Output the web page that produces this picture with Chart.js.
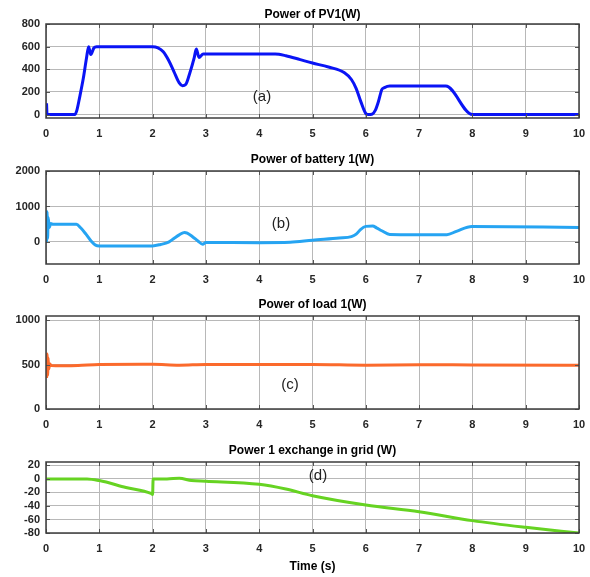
<!DOCTYPE html>
<html>
<head>
<meta charset="utf-8">
<script src="https://cdn.jsdelivr.net/npm/chart.js@4.4.0/dist/chart.umd.min.js"></script>
<style>
  html, body { margin: 0; padding: 0; background: #fff; }
  #wrap { position: relative; width: 590px; height: 577px; }
  #wrap canvas { position: absolute; left: 0; top: 0; }
</style>
</head>
<body>
<div id="wrap">
  <canvas id="pv" width="590" height="577"></canvas>
  <canvas id="bat" width="590" height="577"></canvas>
  <canvas id="load" width="590" height="577"></canvas>
  <canvas id="grid" width="590" height="577"></canvas>
</div>
<script>
// time axis (s)
var timeTicks = [0, 1, 2, 3, 4, 5, 6, 7, 8, 9, 10];

// (a) Power of PV1 (W)
var pvTime  = [0.01, 0.02, 0.04, 0.54, 0.58, 0.63, 0.7, 0.76, 0.8, 0.84, 0.9, 0.95, 2.0, 2.1, 2.2, 2.3, 2.4, 2.5, 2.56, 2.62, 2.7, 2.78, 2.82, 2.87, 2.95, 4.3, 4.5, 4.77, 5.0, 5.3, 5.6, 5.73, 5.82, 5.91, 6.0, 6.05, 6.12, 6.18, 6.24, 6.3, 6.35, 6.45, 7.5, 8.0, 10];
var pvPower = [100, 0, 0, 0, 40, 150, 320, 500, 600, 530, 590, 600, 600, 590, 555, 480, 380, 280, 255, 265, 370, 500, 580, 505, 535, 535, 520, 485, 455, 420, 370, 310, 230, 110, 10, 0, 5, 40, 120, 220, 238, 252, 252, 0, 0];
var pvTicks = [0, 200, 400, 600, 800];

// (b) Power of battery 1 (W)
var batTime  = [0.01, 0.02, 0.03, 0.04, 0.06, 0.09, 0.13, 0.57, 0.65, 0.75, 0.85, 0.93, 1.0, 2.0, 2.15, 2.3, 2.4, 2.5, 2.6, 2.65, 2.75, 2.85, 2.94, 3.0, 4.0, 4.58, 5.0, 5.5, 5.73, 5.82, 5.9, 6.0, 6.13, 6.2, 6.3, 6.45, 7.52, 7.7, 7.99, 10];
var batPower = [0, 850, 100, 700, 400, 520, 500, 500, 400, 220, 20, -90, -110, -110, -70, -5, 100, 200, 270, 250, 150, 30, -65, -15, -20, -10, 50, 110, 150, 220, 350, 440, 450, 400, 316, 214, 205, 300, 437, 410];
var batTicks = [0, 1000, 2000];

// (c) Power of load 1 (W)
var loadTime  = [0.01, 0.02, 0.03, 0.04, 0.05, 0.07, 0.1, 0.3, 0.6, 1.0, 2.0, 2.5, 3.0, 5.0, 6.0, 7.0, 8.0, 10];
var loadPower = [350, 620, 380, 580, 450, 510, 490, 488, 490, 503, 505, 495, 503, 503, 495, 500, 498, 495];
var loadTicks = [0, 500, 1000];

// (d) Power 1 exchange in grid (W)
var gridTime  = [0, 0.77, 1.0, 1.5, 1.97, 2.0, 2.01, 2.27, 2.5, 2.73, 3.0, 4.0, 4.5, 5.0, 6.0, 7.0, 8.0, 9.0, 10];
var gridPower = [0, 0, -2.5, -12.7, -21.5, -23, 0, 0, 1, -2.5, -3.5, -8, -15, -25, -38.7, -48.5, -61.7, -71.6, -80];
var gridTicks = [-80, -60, -40, -20, 0, 20];

var tickFont = { family: 'Liberation Sans, Arial, sans-serif', size: 11, weight: 'bold' };
var gridColor = '#b8b8b8';

function deco(p) {
  return {
    id: 'deco',
    afterDraw: function (chart) {
      var c = chart.ctx, a = chart.chartArea;
      c.save();
      // inward ticks
      c.strokeStyle = '#555';
      c.lineWidth = 1;
      c.beginPath();
      chart.scales.x.ticks.forEach(function (t) {
        var x = Math.round(chart.scales.x.getPixelForValue(t.value)) + 0.5;
        c.moveTo(x, a.bottom); c.lineTo(x, a.bottom - 4);
        c.moveTo(x, a.top); c.lineTo(x, a.top + 4);
      });
      chart.scales.y.ticks.forEach(function (t) {
        var y = Math.round(chart.scales.y.getPixelForValue(t.value)) + 0.5;
        c.moveTo(a.left, y); c.lineTo(a.left + 4, y);
        c.moveTo(a.right, y); c.lineTo(a.right - 4, y);
      });
      c.stroke();
      // box
      c.strokeStyle = '#3c3c3c';
      c.lineWidth = 1.5;
      c.strokeRect(a.left, a.top, a.right - a.left, a.bottom - a.top);
      // title
      c.fillStyle = '#000';
      c.textAlign = 'center';
      c.textBaseline = 'middle';
      c.font = 'bold 12px "Liberation Sans", Arial, sans-serif';
      c.fillText(p.title, (a.left + a.right) / 2, p.titleY);
      if (p.xTitle) c.fillText(p.xTitle, (a.left + a.right) / 2, p.xTitleY);
      // panel label
      c.fillStyle = '#222';
      c.font = '15px "Liberation Sans", Arial, sans-serif';
      c.fillText(p.tag, p.tagX, p.tagY);
      c.restore();
    }
  };
}

function makePanel(id, p) {
  return new Chart(document.getElementById(id), {
    type: 'line',
    data: {
      datasets: [{
        data: p.t.map(function (t, i) { return { x: t, y: p.v[i] }; }),
        borderColor: p.color,
        borderWidth: 3,
        pointRadius: 0,
        cubicInterpolationMode: 'monotone',
        fill: false
      }]
    },
    options: {
      responsive: false,
      animation: false,
      layout: { padding: { top: p.top, bottom: 577 - p.bottom - 20, left: 0, right: 11 } },
      scales: {
        x: {
          type: 'linear', min: 0, max: 10,
          afterBuildTicks: function (s) { s.ticks = timeTicks.map(function (v) { return { value: v }; }); },
          afterFit: function (s) { s.height = 20; s.paddingLeft = 0; s.paddingRight = 0; },
          grid: { color: gridColor, drawTicks: false },
          border: { display: false },
          ticks: { padding: 9, font: tickFont, color: '#262626', maxRotation: 0, autoSkip: false,
                   callback: function (v) { return String(v); } }
        },
        y: {
          min: p.min, max: p.max,
          afterBuildTicks: function (s) { s.ticks = p.ticks.map(function (v) { return { value: v }; }); },
          afterFit: function (s) { s.width = 46; s.paddingTop = 0; s.paddingBottom = 0; },
          grid: { color: gridColor, drawTicks: false },
          border: { display: false },
          ticks: { padding: 6, font: tickFont, color: '#262626', autoSkip: false,
                   callback: function (v) { return String(v); } }
        }
      },
      plugins: { legend: { display: false }, tooltip: { enabled: false } }
    },
    plugins: [deco(p)]
  });
}

makePanel('pv', { t: pvTime, v: pvPower, ticks: pvTicks, min: -30, max: 800, color: '#0a14f5',
  top: 24, bottom: 118, title: 'Power of PV1(W)', titleY: 15, tag: '(a)', tagX: 262, tagY: 97 });
makePanel('bat', { t: batTime, v: batPower, ticks: batTicks, min: -620, max: 2000, color: '#26a4f2',
  top: 171, bottom: 264, title: 'Power of battery 1(W)', titleY: 160, tag: '(b)', tagX: 281, tagY: 224 });
makePanel('load', { t: loadTime, v: loadPower, ticks: loadTicks, min: 0, max: 1050, color: '#fb6a2c',
  top: 316, bottom: 409, title: 'Power of load 1(W)', titleY: 305, tag: '(c)', tagX: 290, tagY: 385 });
makePanel('grid', { t: gridTime, v: gridPower, ticks: gridTicks, min: -80, max: 25, color: '#66d322',
  top: 462, bottom: 533, title: 'Power 1 exchange in grid (W)', titleY: 451, tag: '(d)', tagX: 318, tagY: 476,
  xTitle: 'Time (s)', xTitleY: 567 });
</script>
</body>
</html>
